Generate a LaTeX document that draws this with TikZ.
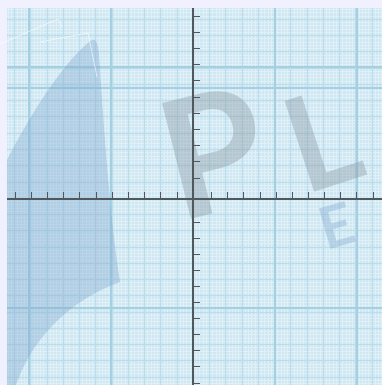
\documentclass[tikz,border=0pt]{standalone}
\usepackage{fontspec}
\setmainfont{Lato}
\definecolor{paper}{HTML}{CFE7F2}
\definecolor{fine}{HTML}{E0F0F7}
\definecolor{mid}{HTML}{BBDCEA}
\definecolor{strong}{HTML}{A5D0E2}
\definecolor{axisgray}{HTML}{50575D}
\definecolor{markgray}{HTML}{8595A0}
\definecolor{markblue}{HTML}{7FA9D0}
\begin{document}
\begin{tikzpicture}[x=1pt, y=-1pt,
    fineline/.style={draw=fine, line width=0.5pt},
    midline/.style={draw=mid, line width=0.5pt},
    strongline/.style={draw=strong, line width=1.2pt},
    axis/.style={draw=axisgray, line width=1.1pt},
    tickmark/.style={draw=axisgray, line width=0.9pt},
    letter/.style={inner sep=0pt, opacity=0.38}]
		\useasboundingbox (0,0) rectangle (382,385);
		\fill[white!94!blue] (0,0) rectangle (382,385);
		\fill[paper] (7,8) rectangle (382,385);

		% graph paper
		\foreach \i in {-57,...,58} {
			\draw[fineline] ({193+3.25*\i},8) -- ({193+3.25*\i},385);
		}
		\foreach \i in {-58,...,57} {
			\draw[fineline] (7,{198+3.25*\i}) -- (382,{198+3.25*\i});
		}
		\foreach \i in {-11,...,11} {
			\draw[midline] ({193+16.25*\i},8) -- ({193+16.25*\i},385);
			\draw[midline] (7,{198+16.25*\i}) -- (382,{198+16.25*\i});
		}
		\foreach \x in {29,111,275,357} \draw[strongline] (\x,8) -- (\x,385);
		\foreach \y in {67,88,308} \draw[strongline] (7,\y) -- (382,\y);

		% watermark
		\fill[markblue, opacity=0.38] (7,160) .. controls (35,105) and (70,55) .. (92,40)
			.. controls (96,38) and (98,44) .. (99,55)
			.. controls (104,130) and (110,220) .. (120,282)
			.. controls (70,300) and (32,338) .. (16,385) -- (7,385) -- cycle;
		\draw[white, opacity=0.6, line width=0.8pt] (0,44) -- (58,19) -- (62,27);
		\draw[white, opacity=0.6, line width=0.8pt] (40,42) -- (88,33) -- (97,77);
		\node[letter, text=markgray, rotate=14, font=\bfseries\fontsize{165}{165}\selectfont] (p) at (214,152) {P};
		\node[letter, text=markgray, rotate=18, font=\bfseries\fontsize{132}{132}\selectfont] (l) at (322,140) {L};
		\node[letter, text=markblue, rotate=16, font=\bfseries\fontsize{58}{58}\selectfont] (e) at (337,226) {E};

		% axes
		\coordinate (xl) at (7,199);
		\coordinate (xr) at (382,199);
		\coordinate (yt) at (193,8);
		\coordinate (yb) at (193,385);
		\draw[axis] (xl) -- (xr);
		\draw[axis] (yt) -- (yb);
		\foreach \k in {0,...,10} {
			\draw[tickmark] ({15+16.2*\k},199) -- ++(0,-7);
			\draw[tickmark] ({211.5+16.15*\k},199) -- ++(0,-7);
			\draw[tickmark] (193,{16+16.2*\k}) -- ++(7,0);
			\draw[tickmark] (193,{222+16.1*\k}) -- ++(7,0);
		}
	\end{tikzpicture}
\end{document}
